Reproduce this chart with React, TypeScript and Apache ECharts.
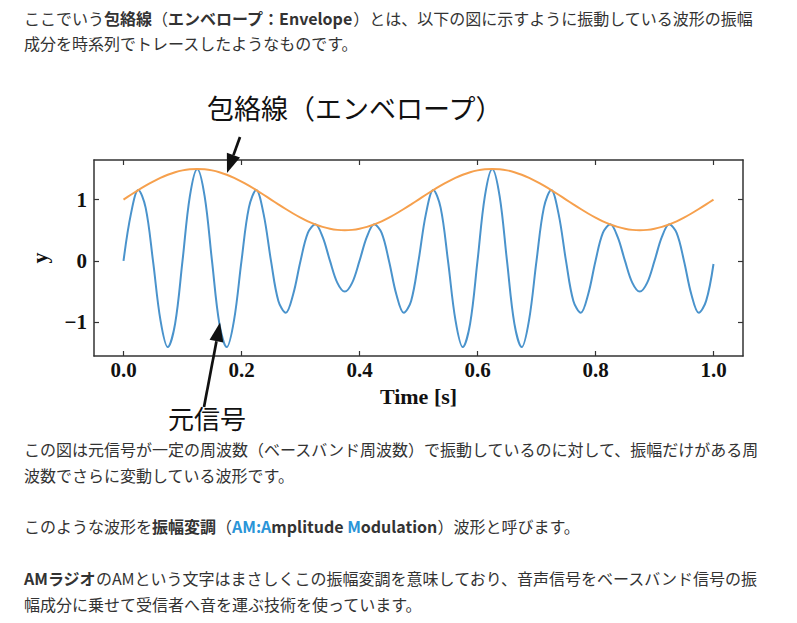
import React, { useEffect, useRef } from "react";
import * as echarts from "echarts";

// time axis samples [s]
const time = [
  0, 0.0125, 0.025, 0.0375, 0.05, 0.0625, 0.075, 0.0875, 0.1, 0.1125,
  0.125, 0.1375, 0.15, 0.1625, 0.175, 0.1875, 0.2, 0.2125, 0.225, 0.2375,
  0.25, 0.2625, 0.275, 0.2875, 0.3, 0.3125, 0.325, 0.3375, 0.35, 0.3625,
  0.375, 0.3875, 0.4, 0.4125, 0.425, 0.4375, 0.45, 0.4625, 0.475, 0.4875,
  0.5, 0.5125, 0.525, 0.5375, 0.55, 0.5625, 0.575, 0.5875, 0.6, 0.6125,
  0.625, 0.6375, 0.65, 0.6625, 0.675, 0.6875, 0.7, 0.7125, 0.725, 0.7375,
  0.75, 0.7625, 0.775, 0.7875, 0.8, 0.8125, 0.825, 0.8375, 0.85, 0.8625,
  0.875, 0.8875, 0.9, 0.9125, 0.925, 0.9375, 0.95, 0.9625, 0.975, 0.9875,
  1.0,
];

// original signal (元信号)
const signal = [
  0, 0.762, 1.155, 0.868, 0, -0.957, -1.405, -1.022,
  0, 1.056, 1.5, 1.056, 0, -1.022, -1.405, -0.957,
  0, 0.868, 1.155, 0.762, 0, -0.652, -0.846, -0.547,
  0, 0.457, 0.596, 0.392, 0, -0.358, -0.5, -0.358,
  0, 0.392, 0.596, 0.457, 0, -0.547, -0.846, -0.652,
  0, 0.762, 1.155, 0.868, 0, -0.957, -1.405, -1.022,
  0, 1.056, 1.5, 1.056, 0, -1.022, -1.405, -0.957,
  0, 0.868, 1.155, 0.762, 0, -0.652, -0.846, -0.547,
  0, 0.457, 0.596, 0.392, 0, -0.358, -0.5, -0.358,
  0, 0.392, 0.596, 0.457, 0, -0.547, -0.846, -0.652,
  -0.05,
];

// envelope (包絡線)
const envelope = [
  1, 1.078, 1.155, 1.227, 1.294, 1.354, 1.405, 1.446, 1.476, 1.494,
  1.5, 1.494, 1.476, 1.446, 1.405, 1.354, 1.294, 1.227, 1.155, 1.078,
  1, 0.922, 0.846, 0.773, 0.706, 0.646, 0.596, 0.555, 0.524, 0.506,
  0.5, 0.506, 0.524, 0.555, 0.596, 0.646, 0.706, 0.773, 0.846, 0.922,
  1, 1.078, 1.155, 1.227, 1.294, 1.354, 1.405, 1.446, 1.476, 1.494,
  1.5, 1.494, 1.476, 1.446, 1.405, 1.354, 1.294, 1.227, 1.155, 1.078,
  1, 0.922, 0.846, 0.773, 0.706, 0.646, 0.596, 0.555, 0.524, 0.506,
  0.5, 0.506, 0.524, 0.555, 0.596, 0.646, 0.706, 0.773, 0.846, 0.922,
  1,
];

const xTicks = [0, 0.2, 0.4, 0.6, 0.8, 1.0];
const yTicks = [-1, 0, 1];

const xName = "Time [s]";
const yName = "y";
const envelopeLabel = "包絡線（エンベロープ）";
const signalLabel = "元信号";

// article paragraphs (rich-text lines)
const textLines = [
  "{n|ここでいう}{b|包絡線}{n|（}{b|エンベロープ：Envelope}{n|）とは、以下の図に示すように振動している波形の振幅}",
  "{n|成分を時系列でトレースしたようなものです。}",
  "{n|この図は元信号が一定の周波数（ベースバンド周波数）で振動しているのに対して、振幅だけがある周}",
  "{n|波数でさらに変動している波形です。}",
  "{n|このような波形を}{b|振幅変調}{n|（}{bl|AM:A}{b|mplitude }{bl|M}{b|odulation}{n|）波形と呼びます。}",
  "{b|AMラジオ}{n|のAMという文字はまさしくこの振幅変調を意味しており、音声信号をベースバンド信号の振}",
  "{n|幅成分に乗せて受信者へ音を運ぶ技術を使っています。}",
];
const textLineY = [18, 43, 449, 475, 526, 578, 604];

const CJK = '"Noto Sans CJK JP", "Noto Sans", sans-serif';
const SERIF = '"Liberation Serif", "DejaVu Serif", serif';
const TXT = "#333333";
const AX = "#333333";

function arrow(tail: number[], tip: number[], headLen: number, headHalf: number) {
  const dx = tip[0] - tail[0];
  const dy = tip[1] - tail[1];
  const L = Math.sqrt(dx * dx + dy * dy);
  const ux = dx / L, uy = dy / L;
  const bx = tip[0] - ux * headLen, by = tip[1] - uy * headLen;
  const px = -uy * headHalf, py = ux * headHalf;
  return [
    {
      type: "line",
      z: 100,
      shape: { x1: tail[0], y1: tail[1], x2: bx, y2: by },
      style: { stroke: "#111", lineWidth: 2.7 },
    },
    {
      type: "polygon",
      z: 100,
      shape: { points: [[tip[0], tip[1]], [bx + px, by + py], [bx - px, by - py]] },
      style: { fill: "#111" },
    },
  ];
}

export default function App() {
  const ref = useRef<HTMLDivElement>(null);
  useEffect(() => {
    if (!ref.current) return;
    const chart = echarts.init(ref.current, undefined, { renderer: "svg" });
    const rich = {
      n: { fontFamily: CJK, fontSize: 16, fontWeight: "normal", fill: TXT },
      b: { fontFamily: CJK, fontSize: 16, fontWeight: "bold", fill: TXT },
      bl: { fontFamily: CJK, fontSize: 16, fontWeight: "bold", fill: "#2a95d8" },
    };
    const tickLabel = {
      fontFamily: SERIF,
      fontWeight: "bold",
      fontSize: 21,
      color: "#111",
    };
    const yFmt = (v: number) => (v < 0 ? "\u2212" + Math.abs(v) : String(v));
    const option: any = {
      animation: false,
      backgroundColor: "#ffffff",
      grid: { left: 94, top: 160, width: 649, height: 196, containLabel: false },
      xAxis: [
        {
          type: "value",
          position: "bottom",
          min: -0.05,
          max: 1.05,
          axisLine: { show: true, onZero: false, lineStyle: { color: AX, width: 1.5 } },
          axisTick: { show: true, inside: true, length: 5, customValues: xTicks, lineStyle: { color: AX, width: 1.2 } },
          axisLabel: { show: true, customValues: xTicks, margin: 3, formatter: (v: number) => v.toFixed(1), ...tickLabel },
          splitLine: { show: false },
          name: xName,
          nameLocation: "middle",
          nameGap: 29,
          nameTextStyle: { ...tickLabel, fontSize: 22 },
        },
        {
          type: "value",
          position: "top",
          min: -0.05,
          max: 1.05,
          axisLine: { show: true, onZero: false, lineStyle: { color: AX, width: 1.5 } },
          axisTick: { show: true, inside: true, length: 5, customValues: xTicks, lineStyle: { color: AX, width: 1.2 } },
          axisLabel: { show: false },
          splitLine: { show: false },
        },
      ],
      yAxis: [
        {
          type: "value",
          position: "left",
          min: -1.55,
          max: 1.645,
          axisLine: { show: true, onZero: false, lineStyle: { color: AX, width: 1.5 } },
          axisTick: { show: true, inside: true, length: 5, customValues: yTicks, lineStyle: { color: AX, width: 1.2 } },
          axisLabel: { show: true, customValues: yTicks, margin: 7, formatter: yFmt, ...tickLabel },
          splitLine: { show: false },
          name: yName,
          nameLocation: "middle",
          nameRotate: 90,
          nameGap: 44,
          nameTextStyle: { ...tickLabel, fontSize: 22 },
        },
        {
          type: "value",
          position: "right",
          min: -1.55,
          max: 1.645,
          axisLine: { show: true, onZero: false, lineStyle: { color: AX, width: 1.5 } },
          axisTick: { show: true, inside: true, length: 5, customValues: yTicks, lineStyle: { color: AX, width: 1.2 } },
          axisLabel: { show: false },
          splitLine: { show: false },
        },
      ],
      series: [
        {
          name: signalLabel,
          type: "line",
          xAxisIndex: 0,
          yAxisIndex: 0,
          data: time.map((t, i) => [t, signal[i]]),
          showSymbol: false,
          smooth: 0.35,
          lineStyle: { color: "#4a93cc", width: 2 },
          itemStyle: { color: "#4a93cc" },
          z: 2,
        },
        {
          name: envelopeLabel,
          type: "line",
          xAxisIndex: 0,
          yAxisIndex: 0,
          data: time.map((t, i) => [t, envelope[i]]),
          showSymbol: false,
          smooth: 0.35,
          lineStyle: { color: "#f6a04d", width: 2 },
          itemStyle: { color: "#f6a04d" },
          z: 3,
        },
      ],
      graphic: [
        ...textLines.map((t, i) => ({
          type: "text",
          x: 24,
          y: textLineY[i],
          style: {
            text: t,
            rich,
            fontFamily: CJK,
            fontSize: 16,
            fill: TXT,
            verticalAlign: "middle",
            align: "left",
          },
        })),
        {
          type: "text",
          x: 207,
          y: 107,
          style: {
            text: envelopeLabel,
            fontFamily: CJK,
            fontSize: 27,
            fill: "#111",
            verticalAlign: "middle",
            align: "left",
          },
        },
        {
          type: "text",
          x: 168,
          y: 417,
          style: {
            text: signalLabel,
            fontFamily: CJK,
            fontSize: 26,
            fill: "#111",
            verticalAlign: "middle",
            align: "left",
          },
        },
        ...arrow([240, 137], [227, 173], 19, 7),
        ...arrow([204, 407], [220, 322.5], 19, 7),
      ],
    };
    chart.setOption(option);
    return () => chart.dispose();
  }, []);
  return (
    <div
      ref={ref}
      style={{ position: "fixed", left: 0, top: 0, width: 797, height: 623, background: "#fff" }}
    />
  );
}
